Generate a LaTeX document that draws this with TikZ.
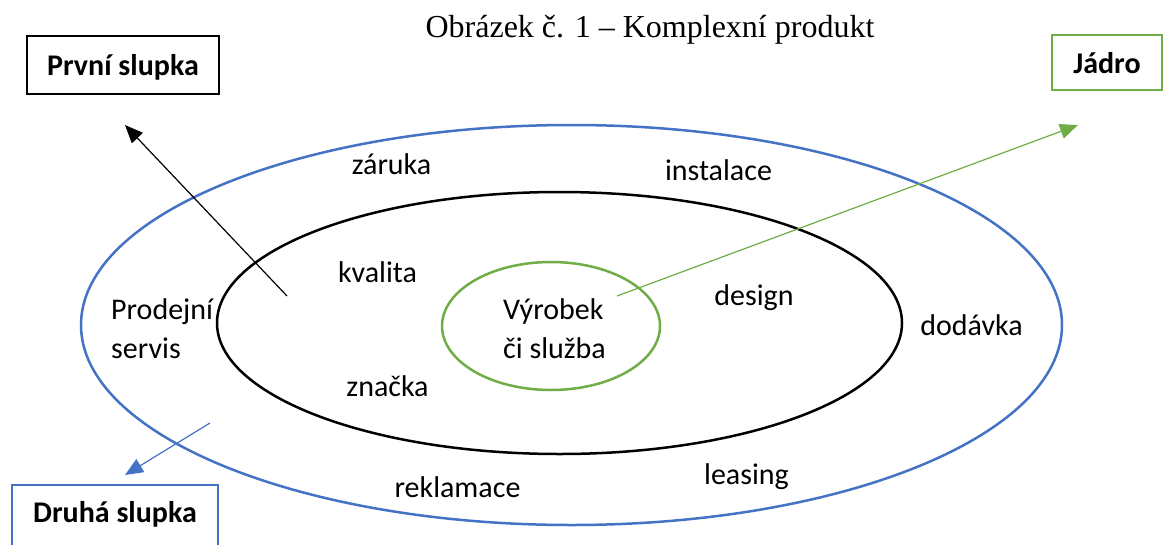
\documentclass[tikz,border=0pt]{standalone}
\usepackage{fontspec}
\setmainfont{Carlito}
\newfontfamily\titlefont{Liberation Serif}
\usetikzlibrary{arrows.meta}
\definecolor{oblue}{RGB}{68,114,196}
\definecolor{ogreen}{RGB}{112,173,71}
\tikzset{
  lbl/.style={font=\fontsize{30}{39}\selectfont, align=left, inner sep=0pt, anchor=base},
  boxlbl/.style={draw, line width=2.5pt, font=\fontsize{30}{34}\selectfont\bfseries, inner sep=0pt},
  ell/.style={line width=2.5pt},
  arr/.style={line width=1.2pt, -{Triangle[length=18pt,width=15pt]}}
}
\begin{document}
\begin{tikzpicture}[x=1pt,y=-1pt]
\useasboundingbox (0,0) rectangle (1165,544);
\fill[white] (0,0) rectangle (1165,544);
\node[font=\titlefont\fontsize{32}{36}\selectfont, anchor=base, inner sep=0pt] (title) at (650,37) {Obrázek č. 1 – Komplexní produkt};
% ellipses
\draw[ell, oblue] (571.5,325) ellipse [x radius=490.5, y radius=200];
\draw[ell, black] (559.5,323) ellipse [x radius=342.5, y radius=131];
\draw[ell, ogreen] (551,326) ellipse [x radius=109, y radius=64];
% boxes
\node[boxlbl, black, text=black, minimum width=192pt, minimum height=58pt, text height=22pt, text depth=2pt] (prvni) at (123,65) {První slupka};
\node[boxlbl, ogreen, text=black, minimum width=110pt, minimum height=55pt, text height=22pt, text depth=1pt] (jadro) at (1107,62.5) {Jádro};
\begin{scope}
\clip (0,0) rectangle (1165,544);
\node[boxlbl, oblue, text=black, minimum width=206pt, minimum height=70pt, text height=14pt, text depth=10pt] (druha) at (115,520) {Druhá slupka};
\end{scope}
% arrows
\coordinate (a1s) at (287,296);
\coordinate (a1e) at (125,125);
\coordinate (a2s) at (617,296);
\coordinate (a2e) at (1078,125);
\coordinate (a3s) at (210,423);
\coordinate (a3e) at (125,475);
\draw[arr, black] (a1s) -- (a1e);
\draw[arr, ogreen] (a2s) -- (a2e);
\draw[arr, oblue] (a3s) -- (a3e);
% labels
\node[lbl] (zaruka) at (391.5,174) {záruka};
\node[lbl] (instalace) at (718.5,180) {instalace};
\node[lbl] (kvalita) at (377.5,282) {kvalita};
\node[lbl] (design) at (754,305) {design};
\node[lbl, anchor=base west] (prodejni) at (111,358) {Prodejní\\servis};
\node[lbl] (dodavka) at (971.5,335) {dodávka};
\node[lbl] (znacka) at (387.5,396) {značka};
\node[lbl, anchor=base west] (vyrobek) at (503,358) {Výrobek\\či služba};
\node[lbl] (reklamace) at (457.5,497) {reklamace};
\node[lbl] (leasing) at (746.5,484) {leasing};
\end{tikzpicture}
\end{document}
